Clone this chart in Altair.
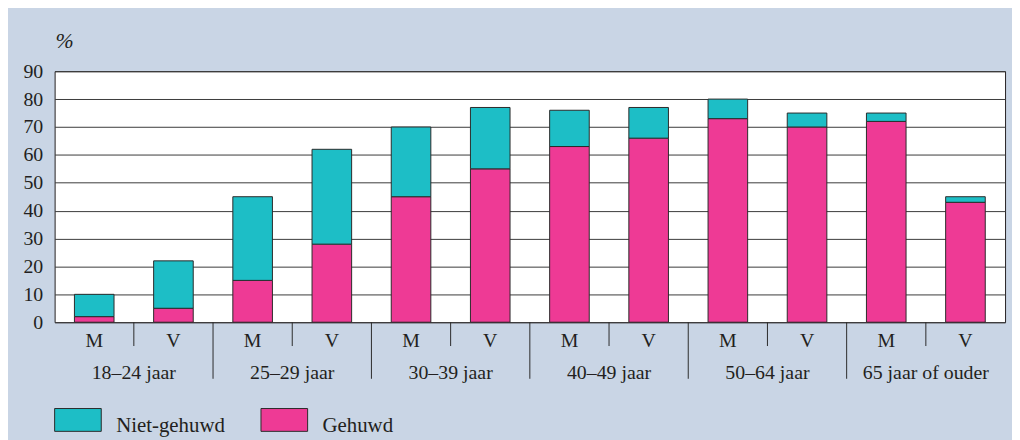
import altair as alt
import pandas as pd

# ---- data ----
groups = ["18–24 jaar", "25–29 jaar", "30–39 jaar", "40–49 jaar", "50–64 jaar", "65 jaar of ouder"]
sexes = ["M", "V"]
gehuwd = [2, 5, 15, 28, 45, 55, 63, 66, 73, 70, 72, 43]
totaal = [10, 22, 45, 62, 70, 77, 76, 77, 80, 75, 75, 45]
series_names = ["Niet-gehuwd", "Gehuwd"]
series_colors = ["#1dbec6", "#ee3a95"]
y_ticks = [0, 10, 20, 30, 40, 50, 60, 70, 80, 90]

FONT = "Liberation Serif, Times New Roman, serif"
TXT = "#231f20"
BG = "#c9d5e5"

rows = []
i = 0
for g in groups:
    for s in sexes:
        rows.append(dict(idx=i, groep=g, geslacht=s, x0=i + 0.25, x1=i + 0.75, xm=i + 0.5,
                         nul=0, gehuwd=gehuwd[i], totaal=totaal[i]))
        i += 1
df = pd.DataFrame(rows)
n = len(df)

df_groups = pd.DataFrame({"groep": groups, "xc": [2 * k + 1 for k in range(len(groups))]})
df_short = pd.DataFrame({"k": [2 * k + 1 for k in range(len(groups))]})
df_long = pd.DataFrame({"k": [2 * k for k in range(1, len(groups))]})

W, H = 958, 253
xscale = alt.Scale(domain=[0, n], nice=False, zero=False)
yscale = alt.Scale(domain=[0, 90], nice=False)
yaxis = alt.Axis(values=y_ticks, tickCount=10, grid=True, gridColor="#3a3a3a", gridWidth=1,
                 ticks=False, domain=False, labelFont=FONT, labelFontSize=20,
                 labelColor=TXT, labelPadding=12, labelOverlap=False, title=None)

base = alt.Chart(df)

bars_g = base.mark_bar(color=series_colors[1], stroke="#2b2b2b", strokeWidth=1).encode(
    x=alt.X("x0:Q", scale=xscale, axis=None),
    x2="x1:Q",
    y=alt.Y("nul:Q", scale=yscale, axis=yaxis),
    y2="gehuwd:Q",
)
bars_n = base.mark_bar(color=series_colors[0], stroke="#2b2b2b", strokeWidth=1).encode(
    x=alt.X("x0:Q", scale=xscale, axis=None),
    x2="x1:Q",
    y=alt.Y("gehuwd:Q", scale=yscale, axis=yaxis),
    y2="totaal:Q",
)

sex_labels = base.mark_text(font=FONT, fontSize=20, color=TXT, baseline="middle").encode(
    x=alt.X("xm:Q", scale=xscale, axis=None),
    y=alt.value(H + 19),
    text="geslacht:N",
)
group_labels = alt.Chart(df_groups).mark_text(font=FONT, fontSize=20, color=TXT, baseline="middle").encode(
    x=alt.X("xc:Q", scale=xscale, axis=None),
    y=alt.value(H + 51),
    text="groep:N",
)
short_ticks = alt.Chart(df_short).mark_rule(color="#2b2b2b", strokeWidth=1).encode(
    x=alt.X("k:Q", scale=xscale, axis=None),
    y=alt.value(H),
    y2=alt.value(H + 24),
)
long_ticks = alt.Chart(df_long).mark_rule(color="#2b2b2b", strokeWidth=1).encode(
    x=alt.X("k:Q", scale=xscale, axis=None),
    y=alt.value(H),
    y2=alt.value(H + 57),
)

pct = alt.Chart(pd.DataFrame({"t": ["%"]})).mark_text(
    font=FONT, fontSize=22, fontStyle="italic", color=TXT, align="left", baseline="middle"
).encode(x=alt.value(1), y=alt.value(-30), text="t:N")

legend_layers = []
leg_x = [0, 208]
for name, col, lx in zip(series_names, series_colors, leg_x):
    ld = pd.DataFrame({"name": [name]})
    legend_layers.append(
        alt.Chart(ld).mark_rect(color=col, stroke="#2b2b2b", strokeWidth=1).encode(
            x=alt.value(lx), x2=alt.value(lx + 47), y=alt.value(340), y2=alt.value(363)
        )
    )
    legend_layers.append(
        alt.Chart(ld).mark_text(font=FONT, fontSize=21, color=TXT, align="left",
                                baseline="alphabetic").encode(
            x=alt.value(lx + 62), y=alt.value(364), text="name:N"
        )
    )

chart = alt.layer(
    bars_g, bars_n, short_ticks, long_ticks, sex_labels, group_labels, pct, *legend_layers
).properties(
    width=W, height=H,
    background=BG,
    padding={"left": 47, "top": 62, "right": 7, "bottom": 117},
    autosize=alt.AutoSizeParams(type="none"),
).configure_view(fill="white", stroke="#231f20", strokeWidth=1)

chart.save("out.html", embed_options={"renderer": "svg", "actions": False})
